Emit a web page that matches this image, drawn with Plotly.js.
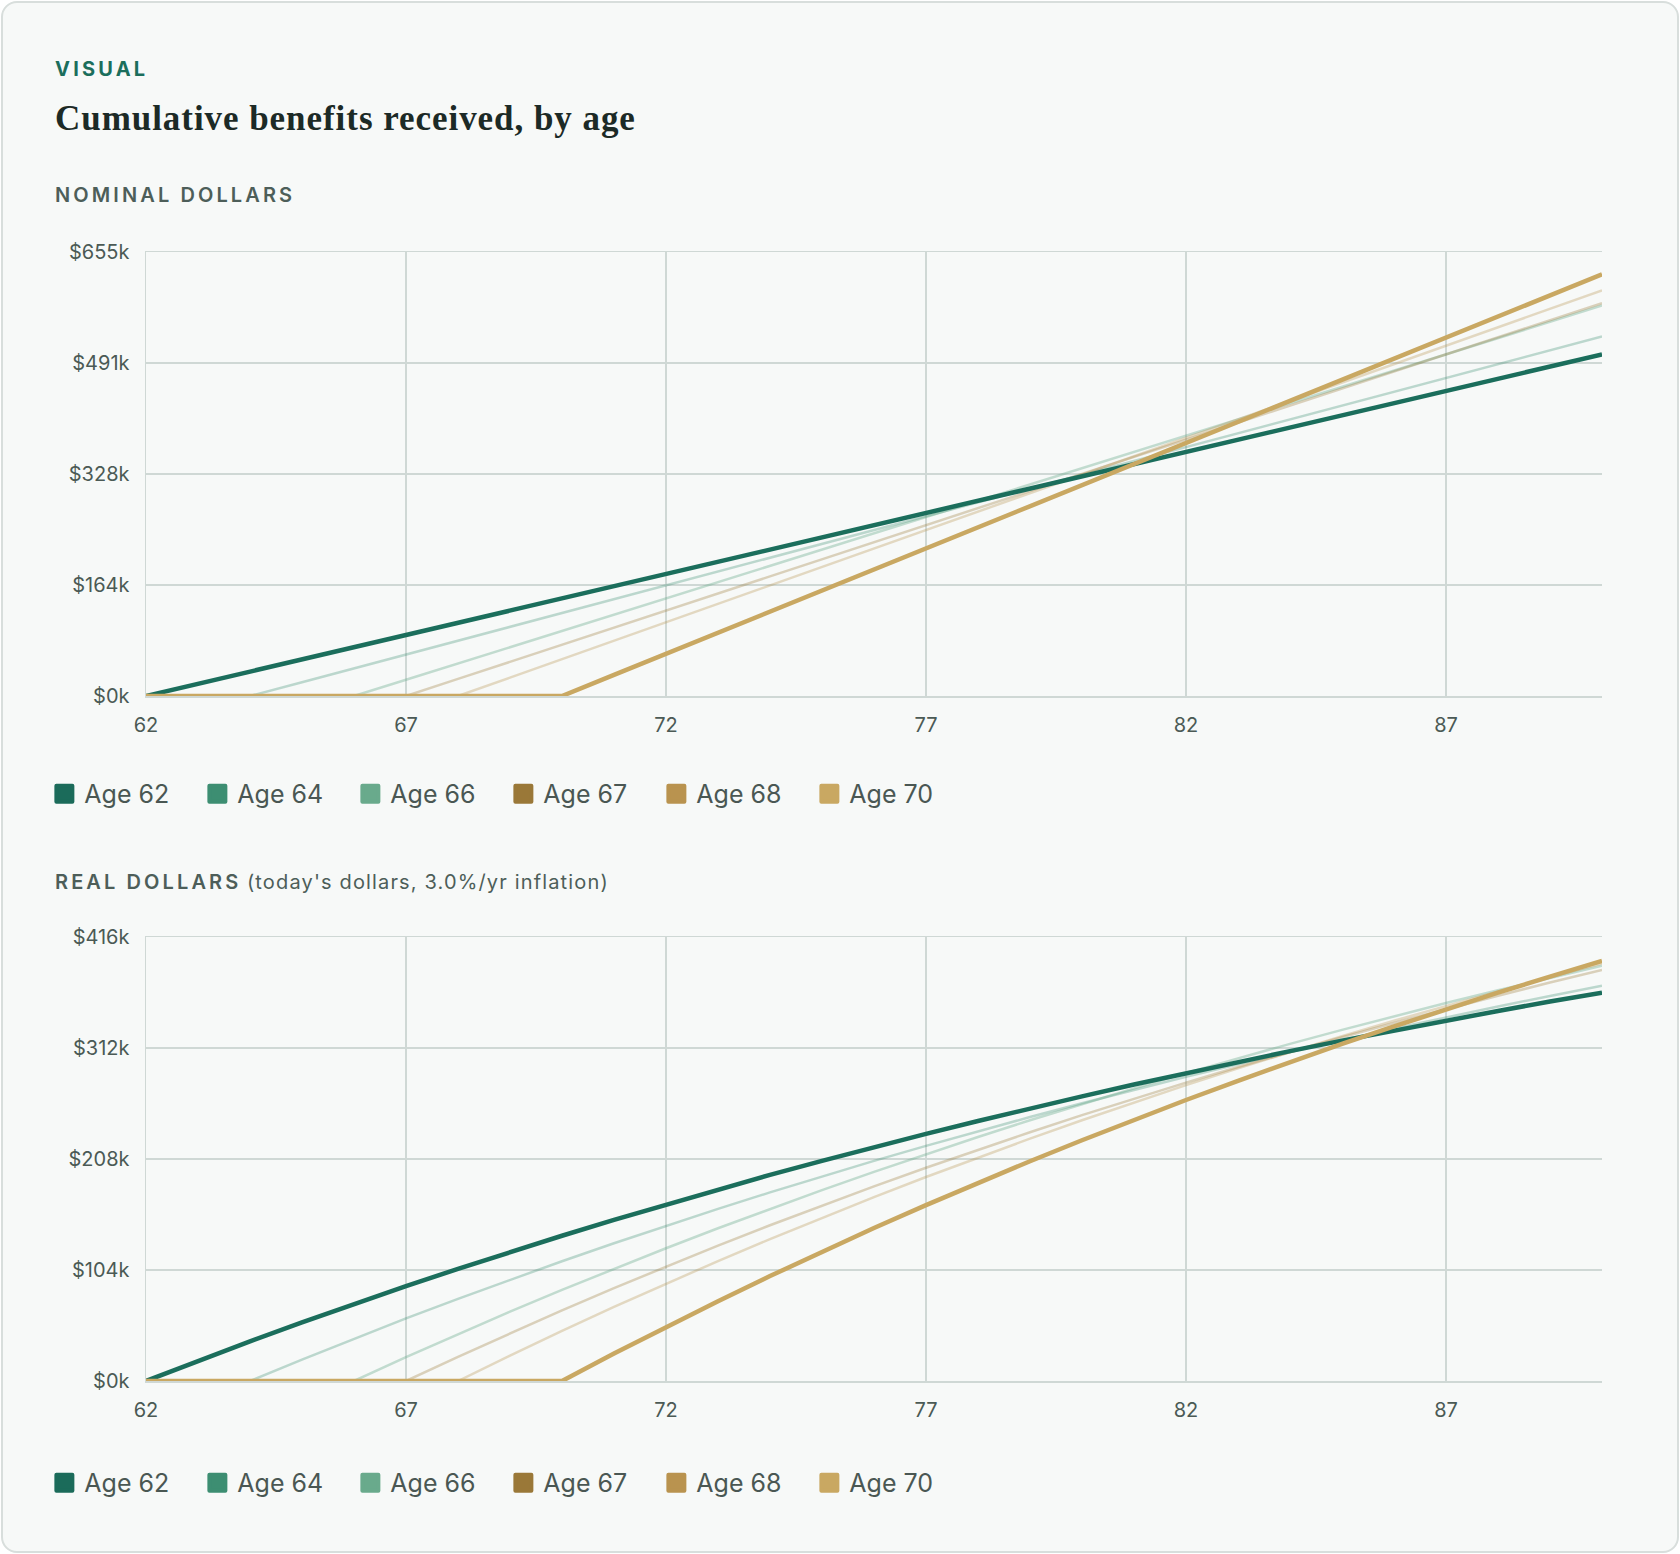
<!DOCTYPE html>
<html>
<head>
<meta charset="utf-8">
<script src="https://cdn.plot.ly/plotly-3.0.1.min.js"></script>
<style>
  html, body { margin:0; padding:0; background:#ffffff; width:1680px; height:1554px; overflow:hidden; }
  #card { position:absolute; left:1px; top:1px; width:1674px; height:1548px; border:2px solid #d8dedc; border-radius:16px; background:#f7f9f8; }
  .txt { position:absolute; left:55px; white-space:nowrap; font-family:Inter, "Noto Sans", sans-serif; }
  #eyebrow { top:59px; font-size:20px; line-height:20px; font-weight:700; letter-spacing:3.2px; color:#1b6e5c; }
  #title { top:102px; font-family:"Liberation Serif", serif; font-size:35px; line-height:34px; font-weight:700; letter-spacing:0.95px; color:#1c2a26; }
  .sub { font-size:20px; line-height:20px; color:#4d5e59; }
  .sub b { font-weight:600; letter-spacing:3.1px; }
  .sub span { letter-spacing:1.15px; }
  #sub1 { top:185px; }
  #sub2 { top:872px; }
  .chart { position:absolute; left:0; width:1680px; height:600px; }
  #chart1 { top:220px; }
  #chart2 { top:905px; }
  .legend .scatterpts { stroke-linejoin: round; }
</style>
</head>
<body>
<div id="card"></div>
<div id="eyebrow" class="txt">VISUAL</div>
<div id="title" class="txt">Cumulative benefits received, by age</div>
<div id="sub1" class="txt sub"><b>NOMINAL DOLLARS</b></div>
<div id="sub2" class="txt sub"><b>REAL DOLLARS</b> <span>(today's dollars, 3.0%/yr inflation)</span></div>
<div id="chart1" class="chart"></div>
<div id="chart2" class="chart"></div>
<script>
// ---- data (k$) ----
const ages = [62,63,64,65,66,67,68,69,70,71,72,73,74,75,76,77,78,79,80,81,82,83,84,85,86,87,88,89,90];
const seriesNames = ['Age 62','Age 64','Age 66','Age 67','Age 68','Age 70'];

const nom62 = [0,18,36,54,72,90,108,126,144,162,180,198,216,234,252,270,288,306,324,342,360,378,396,414,432,450,468,486,504];
const nom64 = [0,0,0,20.4,40.8,61.2,81.6,102.0,122.4,142.8,163.2,183.6,204.0,224.4,244.8,265.2,285.6,306.0,326.4,346.8,367.2,387.6,408.0,428.4,448.8,469.2,489.6,510.0,530.4];
const nom66 = [0,0,0,0,0,24,48,72,96,120,144,168,192,216,240,264,288,312,336,360,384,408,432,456,480,504,528,552,576];
const nom67 = [0,0,0,0,0,0,25.2,50.4,75.6,100.8,126.0,151.2,176.4,201.6,226.8,252.0,277.2,302.4,327.6,352.8,378.0,403.2,428.4,453.6,478.8,504.0,529.2,554.4,579.6];
const nom68 = [0,0,0,0,0,0,0,27.2,54.4,81.6,108.8,136.0,163.2,190.4,217.6,244.8,272.0,299.2,326.4,353.6,380.8,408.0,435.2,462.4,489.6,516.8,544.0,571.2,598.4];
const nom70 = [0,0,0,0,0,0,0,0,0,31.1,62.2,93.3,124.4,155.5,186.6,217.7,248.8,279.9,311.0,342.1,373.2,404.3,435.4,466.5,497.6,528.7,559.8,590.9,622.0];

const real62 = [0,18.8,37.1,54.9,72.1,88.8,105.1,120.8,136.1,151.0,165.4,179.5,193.1,206.3,219.1,231.5,243.6,255.4,266.7,277.8,288.5,299.0,309.1,318.9,328.5,337.7,346.7,355.5,363.9];
const real64 = [0,0,0,20.1,39.6,58.6,77.0,94.9,112.2,129.1,145.4,161.3,176.7,191.7,206.2,220.3,234.0,247.3,260.3,272.8,285.0,296.8,308.2,319.4,330.2,340.7,350.9,360.8,370.4];
const real66 = [0,0,0,0,0,22.3,44.0,65.0,85.4,105.2,124.4,143.1,161.2,178.8,195.9,212.5,228.6,244.3,259.5,274.2,288.5,302.4,315.9,329.0,341.7,354.1,366.1,377.7,389.0];
const real67 = [0,0,0,0,0,0,22.7,44.8,66.2,87.1,107.3,126.9,145.9,164.4,182.4,199.8,216.7,233.1,249.1,264.6,279.6,294.2,308.4,322.1,335.5,348.4,361.0,373.3,385.1];
const real68 = [0,0,0,0,0,0,0,23.8,47.0,69.4,91.2,112.4,132.9,152.9,172.3,191.1,209.3,227.1,244.3,261.0,277.2,293.0,308.3,323.1,337.5,351.5,365.1,378.3,391.1];
const real70 = [0,0,0,0,0,0,0,0,0,25.7,50.6,74.8,98.3,121.1,143.3,164.8,185.7,205.9,225.6,244.7,263.3,281.3,298.8,315.8,332.2,348.2,363.8,378.9,393.5];

const ageTickVals = [62,67,72,77,82,87];
const nomTickVals = [0,163.75,327.5,491.25,655];
const nomTickText = ['$0k','$164k','$328k','$491k','$655k'];
const realTickVals = [0,104,208,312,416];
const realTickText = ['$0k','$104k','$208k','$312k','$416k'];

// ---- styles ----
const legendColors = ['#1b6b5a','#3d8e72','#69aa8c','#9a7838','#b9934f','#c9a862'];
const lineColors  = ['#1b6e5c','rgba(61,142,114,0.32)','rgba(105,170,140,0.38)','rgba(154,120,56,0.32)','rgba(185,147,79,0.32)','#c9a862'];
const lineWidths  = [4.5,2.5,2.5,2.5,2.5,4.5];
const drawOrder   = [1,2,3,4,0,5];

const FONT = 'Inter, "Noto Sans", sans-serif';
const GRID = '#cfd8d5';

function build(div, seriesVals, tickVals, tickText, yMax, legendY) {
  const traces = [];
  drawOrder.forEach(i => {
    traces.push({
      type:'scatter', mode:'lines', x:ages, y:seriesVals[i], name:seriesNames[i],
      line:{color:lineColors[i], width:lineWidths[i]}, showlegend:false,
      hoverinfo:'skip', cliponaxis:false
    });
  });
  seriesNames.forEach((n,i) => {
    traces.push({
      type:'scatter', mode:'markers', x:[null], y:[null], name:n,
      marker:{symbol:'square', size:16, color:legendColors[i], line:{width:4, color:legendColors[i]}},
      showlegend:true, hoverinfo:'skip'
    });
  });
  const layout = {
    width:1680, height:600,
    margin:{l:146, r:78, t:32, b:124, autoexpand:false},
    paper_bgcolor:'rgba(0,0,0,0)', plot_bgcolor:'rgba(0,0,0,0)',
    font:{family:FONT, color:'#4b5a55', size:20},
    showlegend:true,
    legend:{orientation:'h', x:-0.0698, xanchor:'left', y:legendY, yanchor:'middle',
      font:{family:FONT, size:25, color:'#4a5753'}, entrywidth:108, entrywidthmode:'pixels',
      bgcolor:'rgba(0,0,0,0)', borderwidth:0, itemsizing:'trace'},
    xaxis:{range:[62,90], tickmode:'array', tickvals:ageTickVals, showgrid:true, gridcolor:GRID, gridwidth:1.5,
      zeroline:false, showline:true, linecolor:GRID, linewidth:1.5, mirror:true, ticks:'', ticklabelstandoff:10,
      tickfont:{family:FONT, size:20, color:'#4b5a55'}, fixedrange:true},
    yaxis:{range:[0,yMax], tickmode:'array', tickvals:tickVals, ticktext:tickText, showgrid:true, gridcolor:GRID, gridwidth:1.5,
      zeroline:false, showline:true, linecolor:GRID, linewidth:1.5, ticks:'', ticklabelstandoff:11,
      tickfont:{family:FONT, size:20, color:'#4b5a55'}, fixedrange:true},
    hovermode:false
  };
  Plotly.newPlot(div, traces, layout, {staticPlot:true, displayModeBar:false});
}

build('chart1', [nom62,nom64,nom66,nom67,nom68,nom70], nomTickVals, nomTickText, 655, -0.2207);
build('chart2', [real62,real64,real66,real67,real68,real70], realTickVals, realTickText, 416, -0.2297);
</script>
</body>
</html>
